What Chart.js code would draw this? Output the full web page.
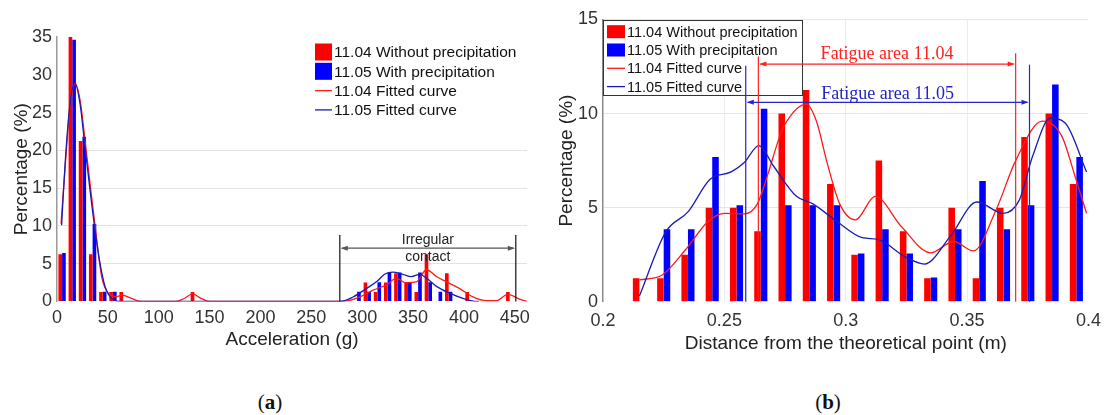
<!DOCTYPE html>
<html>
<head>
<meta charset="utf-8">
<title>Acceleration and fatigue area distributions</title>
<script src="https://cdn.jsdelivr.net/npm/chart.js"></script>
<style>
  body {
    margin: 0;
    width: 1110px;
    height: 415px;
    position: relative;
    overflow: hidden;
    background: #fff;
  }
  canvas { position: absolute; top: 0; }
  #chartAcc { left: 0; }
  #chartDist { left: 555px; }
  .sub {
    position: absolute;
    top: 390px;
    font: 21px 'Liberation Serif', 'Times New Roman', serif;
    color: #111;
    transform: translateX(-50%);
  }
</style>
</head>
<body>

<canvas id="chartAcc" width="555" height="360"></canvas>
<canvas id="chartDist" width="555" height="360"></canvas>
<div class="sub" style="left:270px">(<b>a</b>)</div>
<div class="sub" style="left:828px">(<b>b</b>)</div>

<script>
  const seriesLabels = ['11.04 Without precipitation', '11.05 With precipitation',
                        '11.04 Fitted curve', '11.05 Fitted curve'];

  // (a) acceleration histogram, bin centres in g, share of hits in %
  const accBins = [5, 15, 25, 35, 45, 55, 65, 135, 295, 305, 315, 325, 335, 345, 355, 365, 375, 385, 405, 445];
  const accDry  = [6.25, 35, 21.25, 6.25, 1.25, 1.25, 1.25, 1.25, null, 2.5, 1.25, 2.5, 3.75, 2.5, 1.25, 6.25, null, 3.75, 1.25, 1.25];
  const accWet  = [6.41, 34.62, 21.79, 10.26, 1.28, 1.28, null, null, 1.28, 1.28, 2.56, 3.85, 3.85, 2.56, 3.85, 2.56, 1.28, 1.28, null, null];
  const accTicks = [0, 50, 100, 150, 200, 250, 300, 350, 400, 450];
  const accDryFit = [[4, 10.3], [8, 17.8], [12.8, 25.8], [17.9, 28.8], [23, 26.4], [28, 20.8], [33, 15], [37.8, 9.6],
    [43.9, 3.3], [50.4, 1.1], [58.6, 0.65], [64, 0.85], [73.4, 0.4], [82, 0], [117, 0], [125, 0.4], [133.3, 1.0],
    [141, 0.45], [150, 0], [281, 0], [297.6, 0.6], [310.7, 1.5], [324, 2.2], [333.7, 3.1], [341.8, 2.5], [353.3, 2.6],
    [363.2, 4.2], [373, 3.3], [382.8, 2.6], [395.9, 1.7], [409, 0.6], [422, 0.1], [432, 0.1], [443, 0.95], [456, 0.25], [462, 0]];
  const accWetFit = [[4.5, 10.1], [8, 18.3], [12.8, 26.2], [17.7, 28.9], [22.6, 26.2], [27.5, 20.5], [32.4, 14.8],
    [37.3, 9.5], [42.2, 5.1], [47.2, 2.0], [53.7, 0.4], [63, 0], [278, 0], [291, 0.6], [304, 1.7], [314, 2.6],
    [322, 3.6], [330, 3.9], [340, 3.6], [348.4, 3.3], [356.6, 3.6], [363, 3.1], [373, 2.0], [386, 1.1], [399, 0.4],
    [409, 0.05], [415, 0]];
  const irregularRange = [278, 451];

  // (b) distance from the theoretical point, bin centres in m
  const distBins = [0.215, 0.225, 0.235, 0.245, 0.255, 0.265, 0.275, 0.285, 0.295, 0.305,
                    0.315, 0.325, 0.335, 0.345, 0.355, 0.365, 0.375, 0.385, 0.395];
  const distDry = [1.25, 1.25, 2.5, 5, 5, 3.75, 10, 11.25, 6.25, 2.5, 7.5, 3.75, 1.25, 5, 1.25, 5, 8.75, 10, 6.25];
  const distWet = [null, 3.85, 3.85, 7.69, 5.13, 10.26, 5.13, 5.13, 5.13, 2.56, 3.85, 2.56, 1.28, 3.85, 6.41, 3.85, 5.13, 11.54, 7.69];
  const distTicks = [0.2, 0.25, 0.3, 0.35, 0.4];
  const distDryFit = [[0.215, 1.16], [0.2244, 1.42], [0.2339, 2.75], [0.2433, 4.26], [0.2501, 4.7], [0.2582, 4.67],
    [0.2636, 5.2], [0.2676, 6.65], [0.2723, 8.6], [0.2744, 9.3], [0.2838, 10.5], [0.2879, 9.6], [0.2925, 7.3],
    [0.2975, 5.2], [0.304, 4.35], [0.3121, 5.6], [0.3229, 4.0], [0.335, 2.6], [0.3445, 3.2], [0.3526, 2.7],
    [0.362, 4.9], [0.37, 7.5], [0.381, 9.6], [0.389, 8.8], [0.3945, 6.65], [0.3992, 4.7]];
  const distWetFit = [[0.215, 0.3], [0.2258, 3.7], [0.2352, 4.8], [0.244, 6.5], [0.2528, 6.9], [0.2582, 7.4],
    [0.2642, 8.3], [0.2703, 7.2], [0.2797, 5.6], [0.2865, 5.2], [0.296, 4.3], [0.3068, 3.4], [0.3135, 3.3],
    [0.3243, 2.4], [0.3324, 2.0], [0.3432, 3.5], [0.354, 5.3], [0.3648, 4.7], [0.3715, 5.4], [0.3769, 7.7],
    [0.3843, 9.75], [0.3904, 9.5], [0.3992, 6.9]];
  const fatigueAreas = [
    { label: 'Fatigue area 11.04', from: 0.264, to: 0.370 },
    { label: 'Fatigue area 11.05', from: 0.2588, to: 0.3757 }
  ];

  const RED = '#ff0000', BLUE = '#0000ff';
  const RED_LINE = '#ff1a1a', BLUE_LINE = '#1c1cb4';

  Chart.defaults.font.family = "'Liberation Sans', Arial, sans-serif";
  Chart.defaults.color = '#333';

  function pairs(xs, ys) {
    return xs.map((x, i) => ({ x: x, y: ys[i] })).filter(p => p.y !== null);
  }
  function points(list) {
    return list.map(p => ({ x: p[0], y: p[1] }));
  }

  function buildDatasets(bins, dry, wet, dryFit, wetFit, catPct) {
    const bar = { type: 'bar', categoryPercentage: catPct, barPercentage: 1, order: 2 };
    const line = { type: 'line', borderWidth: 1.3, pointRadius: 0, cubicInterpolationMode: 'monotone', fill: false };
    return [
      Object.assign({}, bar, { label: seriesLabels[0], data: pairs(bins, dry), backgroundColor: RED }),
      Object.assign({}, bar, { label: seriesLabels[1], data: pairs(bins, wet), backgroundColor: BLUE }),
      Object.assign({}, line, { label: seriesLabels[2], data: points(dryFit), borderColor: RED_LINE, order: 1 }),
      Object.assign({}, line, { label: seriesLabels[3], data: points(wetFit), borderColor: BLUE_LINE, order: 0 })
    ];
  }

  // legend drawn inside the plot area
  function legendPlugin(cfg) {
    return {
      id: 'innerLegend',
      afterDatasetsDraw(chart) {
        const ctx = chart.ctx;
        ctx.save();
        if (cfg.box) {
          const b = cfg.box;
          ctx.fillStyle = '#fff';
          ctx.fillRect(b[0], b[1], b[2], b[3]);
          ctx.strokeStyle = '#333';
          ctx.lineWidth = 1;
          ctx.strokeRect(b[0] + 0.5, b[1] + 0.5, b[2], b[3]);
        }
        ctx.font = cfg.font;
        ctx.textBaseline = 'middle';
        chart.data.datasets.forEach((ds, i) => {
          const y = cfg.y + i * cfg.row;
          if (ds.type === 'bar') {
            ctx.fillStyle = ds.backgroundColor;
            ctx.fillRect(cfg.x, y - cfg.sh / 2, cfg.sw, cfg.sh);
          } else {
            ctx.strokeStyle = ds.borderColor;
            ctx.lineWidth = 1.3;
            ctx.beginPath();
            ctx.moveTo(cfg.x, y);
            ctx.lineTo(cfg.x + cfg.sw, y);
            ctx.stroke();
          }
          ctx.fillStyle = '#111';
          ctx.fillText(ds.label, cfg.x + cfg.sw + 2, y + 1);
        });
        ctx.restore();
      }
    };
  }

  function arrowHead(ctx, x, y, dir, len, half) {
    ctx.beginPath();
    ctx.moveTo(x, y);
    ctx.lineTo(x - dir * len, y - half);
    ctx.lineTo(x - dir * len, y + half);
    ctx.closePath();
    ctx.fill();
  }

  function doubleArrow(ctx, x1, x2, y, color) {
    ctx.strokeStyle = color;
    ctx.fillStyle = color;
    ctx.lineWidth = 1.2;
    ctx.beginPath();
    ctx.moveTo(x1 + 2, y);
    ctx.lineTo(x2 - 2, y);
    ctx.stroke();
    arrowHead(ctx, x1 + 1, y, -1, 7, 2.5);
    arrowHead(ctx, x2 - 1, y, 1, 7, 2.5);
  }

  function vLine(ctx, x, yTop, yBottom, color) {
    ctx.strokeStyle = color;
    ctx.lineWidth = 1.2;
    ctx.beginPath();
    ctx.moveTo(x, yTop);
    ctx.lineTo(x, yBottom);
    ctx.stroke();
  }

  const irregularPlugin = {
    id: 'irregularContact',
    afterDatasetsDraw(chart) {
      const { ctx, scales: { x, y } } = chart;
      const x1 = x.getPixelForValue(irregularRange[0]);
      const x2 = x.getPixelForValue(irregularRange[1]);
      const y0 = y.getPixelForValue(0);
      ctx.save();
      vLine(ctx, x1, y.getPixelForValue(8.8), y0, '#111');
      vLine(ctx, x2, y.getPixelForValue(8.8), y0, '#111');
      doubleArrow(ctx, x1, x2, y.getPixelForValue(7.05), '#555');
      ctx.fillStyle = '#222';
      ctx.font = "14px 'Liberation Sans', Arial, sans-serif";
      ctx.textAlign = 'center';
      ctx.textBaseline = 'middle';
      const mid = (x1 + x2) / 2;
      ctx.fillText('Irregular', mid, y.getPixelForValue(8.15));
      ctx.fillText('contact', mid, y.getPixelForValue(5.85));
      ctx.restore();
    }
  };

  const fatiguePlugin = {
    id: 'fatigueAreas',
    afterDatasetsDraw(chart) {
      const { ctx, scales: { x, y } } = chart;
      const style = [
        { color: '#ff2020', tops: [13.03, 13.2], arrow: 12.63, text: 12.89 },
        { color: '#2424c8', tops: [12.54, 12.6], arrow: 10.6, text: 10.77 }
      ];
      const y0 = y.getPixelForValue(0);
      ctx.save();
      fatigueAreas.forEach((a, i) => {
        const s = style[i];
        const x1 = x.getPixelForValue(a.from);
        const x2 = x.getPixelForValue(a.to);
        vLine(ctx, x1, y.getPixelForValue(s.tops[0]), y0, s.color);
        vLine(ctx, x2, y.getPixelForValue(s.tops[1]), y0, s.color);
        doubleArrow(ctx, x1, x2, y.getPixelForValue(s.arrow), s.color);
        ctx.fillStyle = s.color;
        ctx.font = "18px 'Liberation Serif', 'Times New Roman', serif";
        ctx.textAlign = 'center';
        ctx.textBaseline = 'alphabetic';
        ctx.fillText(a.label, (x1 + x2) / 2, y.getPixelForValue(s.text));
      });
      ctx.restore();
    }
  };

  const hidden = 'rgba(0,0,0,0)';

  // (a) Acceleration
  new Chart(document.getElementById('chartAcc'), {
    type: 'bar',
    data: { datasets: buildDatasets(accBins, accDry, accWet, accDryFit, accWetFit, 0.72) },
    options: {
      responsive: false,
      animation: false,
      devicePixelRatio: 1,
      layout: { padding: { top: 37, right: 28, left: 0, bottom: 0 } },
      plugins: { legend: { display: false }, tooltip: { enabled: false } },
      scales: {
        x: {
          type: 'linear', min: 0, max: 462, offset: false,
          afterFit: s => { s.height = 58.5; },
          afterBuildTicks: s => { s.ticks = accTicks.map(v => ({ value: v })); },
          ticks: { font: { size: 18 }, color: '#333', padding: 6, maxRotation: 0, autoSkip: false },
          grid: { display: false, drawTicks: false, offset: false },
          border: { display: false },
          title: { display: true, text: 'Acceleration (g)', font: { size: 19 }, color: '#222',
                   padding: { top: 0, bottom: 9 } }
        },
        y: {
          min: 0, max: 35,
          afterFit: s => { s.width = 57; },
          ticks: { stepSize: 5, font: { size: 18 }, color: '#333', padding: 5 },
          grid: { drawTicks: false, color: c => (c.tick && c.tick.value >= 5 && c.tick.value <= 20) ? '#e2e2e2' : hidden },
          border: { color: '#9a9a9a', width: 1.5 },
          title: { display: true, text: 'Percentage (%)', font: { size: 19 }, color: '#222',
                   padding: { top: 10, bottom: 0 } }
        }
      }
    },
    plugins: [
      legendPlugin({ x: 315, y: 52, row: 19.3, sw: 17, sh: 17, font: "15.5px 'Liberation Sans', Arial, sans-serif" }),
      irregularPlugin
    ]
  });

  // (b) Distance from the theoretical point
  new Chart(document.getElementById('chartDist'), {
    type: 'bar',
    data: { datasets: buildDatasets(distBins, distDry, distWet, distDryFit, distWetFit, 0.54) },
    options: {
      responsive: false,
      animation: false,
      devicePixelRatio: 1,
      layout: { padding: { top: 19.5, right: 13, left: 0, bottom: 0 } },
      plugins: { legend: { display: false }, tooltip: { enabled: false } },
      scales: {
        x: {
          type: 'linear', min: 0.2, max: 0.4, offset: false,
          afterFit: s => { s.height = 58.3; },
          afterBuildTicks: s => { s.ticks = distTicks.map(v => ({ value: v })); },
          ticks: { font: { size: 18 }, color: '#333', padding: 9, maxRotation: 0, autoSkip: false,
                   callback: v => String(Math.round(v * 100) / 100) },
          grid: { drawTicks: false, offset: false,
                  color: c => (c.tick && c.tick.value > 0.21 && c.tick.value < 0.39) ? '#ececec' : hidden },
          border: { display: false },
          title: { display: true, text: 'Distance from the theoretical point (m)', font: { size: 19 }, color: '#222',
                   padding: { top: 0, bottom: 5 } }
        },
        y: {
          min: 0, max: 15,
          afterFit: s => { s.width = 48; },
          ticks: { stepSize: 5, font: { size: 18 }, color: '#333', padding: 5 },
          grid: { drawTicks: false, color: c => (c.tick && c.tick.value > 0) ? '#e6e6e6' : hidden },
          border: { color: '#8a8a8a', width: 1.5 },
          title: { display: true, text: 'Percentage (%)', font: { size: 19 }, color: '#222',
                   padding: { top: 0, bottom: 0 } }
        }
      }
    },
    plugins: [
      legendPlugin({ x: 52, y: 31.7, row: 18.3, sw: 18, sh: 13, font: "14.5px 'Liberation Sans', Arial, sans-serif",
                     box: [48, 20, 199, 75] }),
      fatiguePlugin
    ]
  });
</script>
</body>
</html>
